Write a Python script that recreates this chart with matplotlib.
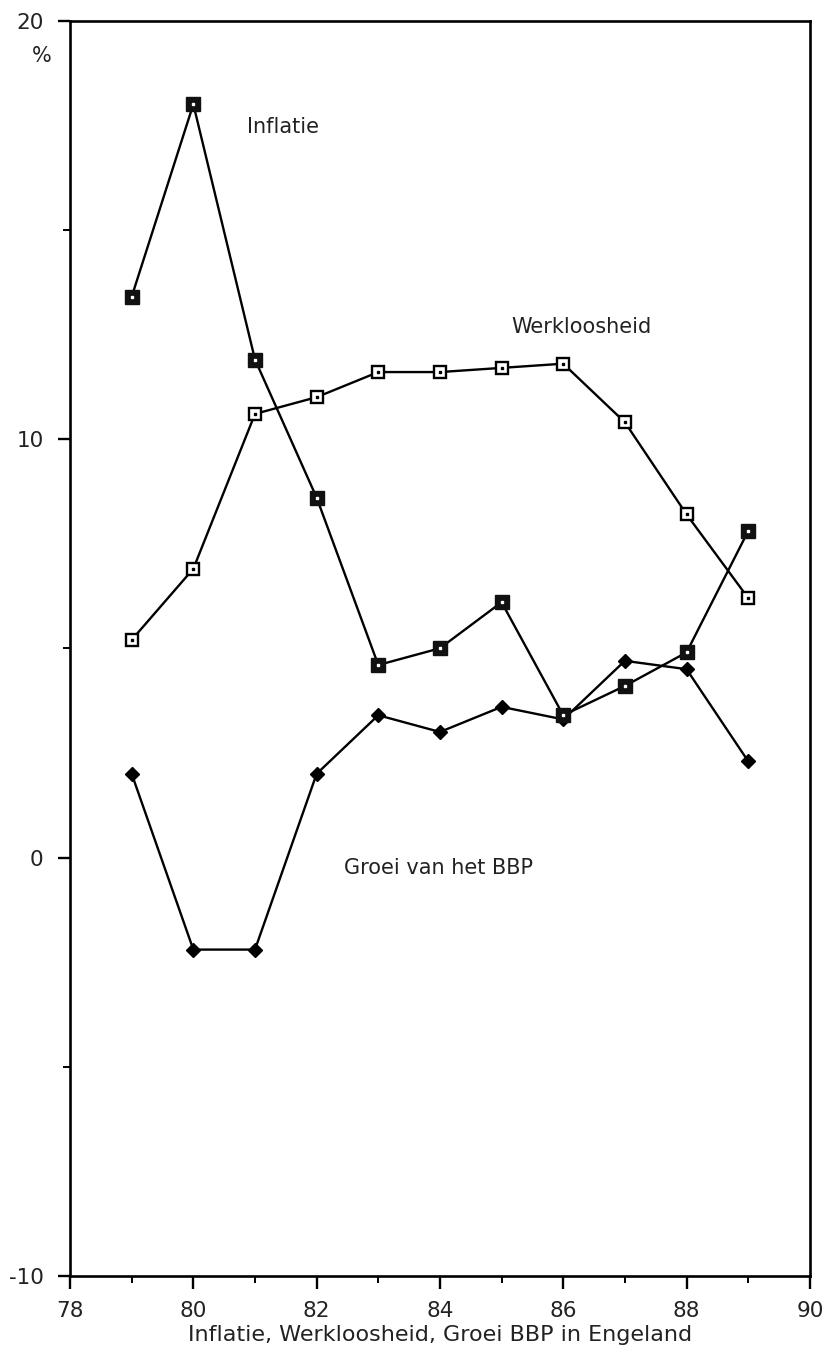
import numpy as np
import matplotlib.pyplot as plt
from matplotlib.ticker import MultipleLocator

plt.rcParams["font.family"] = ["DejaVu Sans"]
plt.rcParams["axes.unicode_minus"] = False

# Data
jaren = [79, 80, 81, 82, 83, 84, 85, 86, 87, 88, 89]
inflatie = [13.4, 18.0, 11.9, 8.6, 4.6, 5.0, 6.1, 3.4, 4.1, 4.9, 7.8]
werkloosheid = [5.2, 6.9, 10.6, 11.0, 11.6, 11.6, 11.7, 11.8, 10.4, 8.2, 6.2]
groei_bbp = [2.0, -2.2, -2.2, 2.0, 3.4, 3.0, 3.6, 3.3, 4.7, 4.5, 2.3]

fig = plt.figure(figsize=(8.22, 13.5), dpi=100)
ax = fig.add_axes([0.0852, 0.0548, 0.900, 0.930])

lw = 1.7
# Groei BBP: zwarte ruiten
ax.plot(jaren, groei_bbp, color="black", lw=lw, marker="D", markersize=7.5,
        markerfacecolor="black", markeredgecolor="black", zorder=3)
# Werkloosheid: open vierkantjes met stip
ax.plot(jaren, werkloosheid, color="black", lw=lw, marker="s", markersize=8.5,
        markerfacecolor="white", markeredgecolor="black", markeredgewidth=1.7, zorder=3)
ax.plot(jaren, werkloosheid, ls="none", marker="s", markersize=2,
        color="black", zorder=4)
# Inflatie: dichte vierkantjes met witte stip
ax.plot(jaren, inflatie, color="black", lw=lw, marker="s", markersize=10,
        markerfacecolor="#111111", markeredgecolor="#111111", zorder=3)
ax.plot(jaren, inflatie, ls="none", marker="s", markersize=2,
        color="white", zorder=4)

ax.set_xlim(78, 90)
ax.set_ylim(-10, 20)
ax.xaxis.set_major_locator(MultipleLocator(2))
ax.xaxis.set_minor_locator(MultipleLocator(1))
ax.yaxis.set_major_locator(MultipleLocator(10))
ax.yaxis.set_minor_locator(MultipleLocator(5))
ax.tick_params(axis="both", which="major", direction="out", length=9, width=1.7,
               labelsize=15.5, labelcolor="#222222")
ax.tick_params(axis="x", which="major", pad=9)
ax.tick_params(axis="y", which="major", pad=10)
ax.tick_params(axis="both", which="minor", direction="out", length=5, width=1.4)
for s in ax.spines.values():
    s.set_linewidth(1.9)

tk = dict(fontsize=15, ha="center", va="center", color="#222222")
ax.text(81.45, 17.45, "Inflatie", **tk)
ax.text(86.3, 12.67, "Werkloosheid", **tk)
ax.text(83.98, -0.26, "Groei van het BBP", **tk)
ax.text(-0.038, 0.972, "%", transform=ax.transAxes, **tk)

ax.set_xlabel("Inflatie, Werkloosheid, Groei BBP in Engeland", fontsize=16,
              color="#222222", labelpad=3)

fig.savefig("out.png", dpi=100)
